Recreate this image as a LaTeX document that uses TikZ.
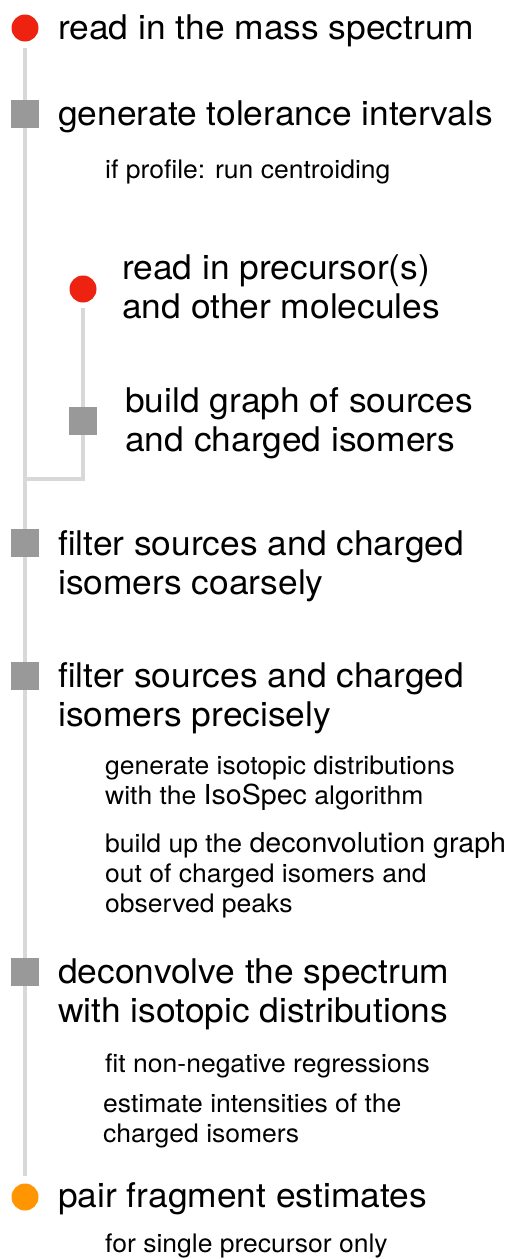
\documentclass[tikz,border=0pt]{standalone}
\usepackage{fontspec}
\setmainfont[FakeStretch=1.04]{TeX Gyre Heros}
\usetikzlibrary{positioning,backgrounds}
\definecolor{pipered}{HTML}{EE2211}
\definecolor{pipeorange}{HTML}{FF9500}
\definecolor{pipegray}{HTML}{999999}
\definecolor{pipeline}{HTML}{D8D8D8}
\tikzset{
  pipedot/.style={circle,fill=#1,inner sep=0pt,minimum size=27pt},
  pipesq/.style={rectangle,fill=pipegray,inner sep=0pt,minimum size=28pt},
  pipemain/.style={anchor=base west,inner sep=0pt,align=left,font=\fontsize{34}{39}\selectfont},
  pipesub/.style={anchor=base west,inner sep=0pt,align=left,font=\fontsize{25.5}{30}\selectfont},
  pipelink/.style={draw=pipeline,line width=3.6pt},
}
\newcommand{\pipebig}[1]{{\fontsize{27.5}{30}\selectfont #1}}
\begin{document}
\begin{tikzpicture}[x=1pt,y=-1pt]
\useasboundingbox (0,0) rectangle (510,1259);
% main steps (text nodes sit on the baseline of their last line)
\node[pipedot=pipered] (spec) at (25,28) {};
\node[pipemain] (spect) at (58,39) {read in the mass spectrum};
\node[pipesq] (tol) at (25,114) {};
\node[pipemain] (tolt) at (58,125) {generate tolerance intervals};
\node[pipesub] (cent) at (105,178) {if profile: run centroiding};
% side branch
\node[pipedot=pipered] (prec) at (83,289) {};
\node[pipemain] (prect) at (122,318) {read in precursor(s)\\and other molecules};
\node[pipesq] (graph) at (83,421) {};
\node[pipemain] (grapht) at (125,451) {build graph of sources\\and charged isomers};
\coordinate (subend) at (83,479);
\coordinate (join) at (25,479);
% filtering
\node[pipesq] (coarse) at (25,543) {};
\node[pipemain] (coarset) at (58,594) {filter sources and charged\\isomers coarsely};
\node[pipesq] (precise) at (25,676) {};
\node[pipemain] (preciset) at (58,726) {filter sources and charged\\isomers precisely};
\node[pipesub] (iso) at (105,804) {generate isotopic distributions\\with the \pipebig{IsoSpec} algorithm};
\node[pipesub] (dgraph) at (105,912) {build up the \pipebig{deconvolution graph}\\out of charged isomers and\\observed peaks};
% deconvolution
\node[pipesq] (deconv) at (25,972) {};
\node[pipemain] (deconvt) at (58,1022) {deconvolve the spectrum\\with isotopic distributions};
\node[pipesub] (nnls) at (105,1072) {fit non-negative regressions};
\node[pipesub] (inten) at (103,1142) {estimate intensities of the\\charged isomers};
\node[pipedot=pipeorange] (pair) at (25,1197) {};
\node[pipemain] (pairt) at (58,1207) {pair fragment estimates};
\node[pipesub] (single) at (105,1252) {for single precursor only};
\begin{scope}[on background layer]
\draw[pipelink] ([yshift=-6.5pt]spec.south) -- ([yshift=7.5pt]pair.north);
\draw[pipelink] ([yshift=-5.5pt]prec.south) -- (subend) -- (join);
\end{scope}
\end{tikzpicture}
\end{document}
